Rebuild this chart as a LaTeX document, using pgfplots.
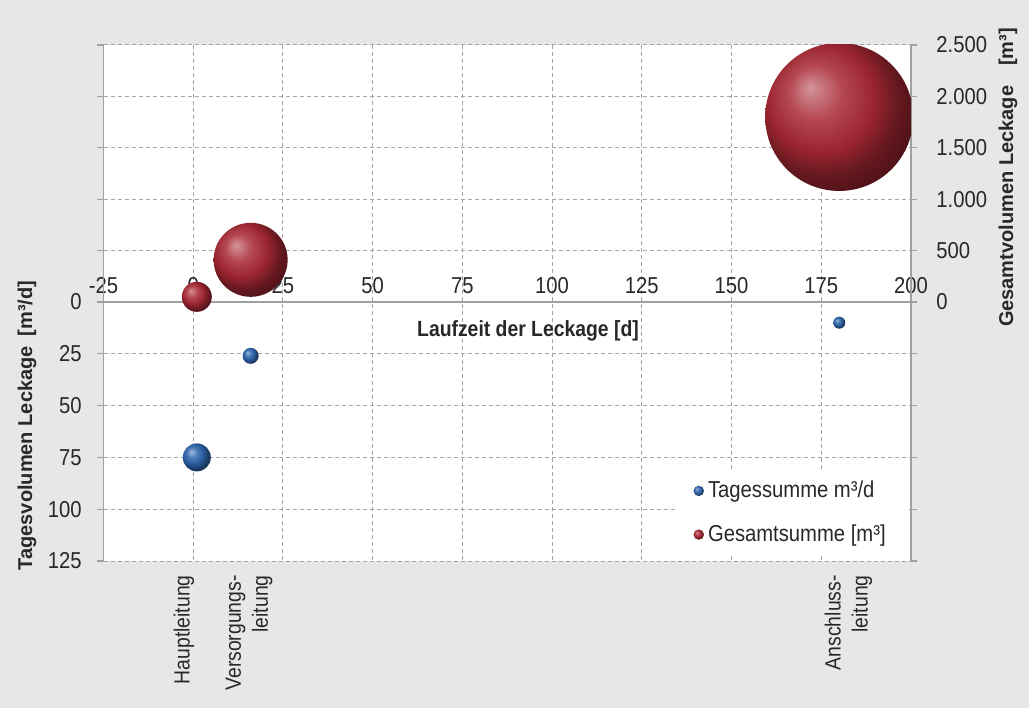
\documentclass[border=0pt]{standalone}
\usepackage{pgfplots}
\pgfplotsset{compat=1.18}
\usepackage{fontspec}
\setmainfont{Liberation Sans}[FakeStretch=0.88]
\newfontfamily\widefont{Liberation Sans}
\definecolor{bg}{RGB}{230,231,232}
\definecolor{gridc}{RGB}{165,165,165}
\definecolor{axc}{RGB}{160,160,160}
\definecolor{bubred}{RGB}{168,40,52}
\definecolor{bubblue}{RGB}{45,100,172}
\definecolor{txt}{RGB}{40,40,40}
\pgfdeclareradialshading{redball}{\pgfpoint{-10bp}{10bp}}{color(0bp)=(bubred!50!white); color(9bp)=(bubred!85!white); color(18bp)=(bubred!92!black); color(25bp)=(bubred!60!black); color(50bp)=(black)}
\pgfdeclareradialshading{blueball}{\pgfpoint{-10bp}{10bp}}{color(0bp)=(bubblue!45!white); color(9bp)=(bubblue!85!white); color(18bp)=(bubblue!92!black); color(25bp)=(bubblue!60!black); color(50bp)=(black)}
\pgfdeclareplotmark{redball}{\pgfpathcircle{\pgfpointorigin}{\pgfplotmarksize}\pgfshadepath{redball}{0}\pgfusepath{discard}}
\pgfdeclareplotmark{blueball}{\pgfpathcircle{\pgfpointorigin}{\pgfplotmarksize}\pgfshadepath{blueball}{0}\pgfusepath{discard}}
\begin{document}
\begin{tikzpicture}
\fill[bg] (0,0) rectangle (514.5pt,354pt);
\pgfplotsset{
 common/.style={
  scale only axis, width=403.75pt, height=258pt,
  at={(51.75pt,73.5pt)}, anchor=south west,
  xmin=-25, xmax=200,
  separate axis lines,
  x axis line style={draw=none},
  y axis line style={draw=axc, line width=0.8pt},
  tick align=outside, major tick length=3pt,
  every tick/.style={draw=axc, line width=0.6pt},
  tick label style={font=\fontsize{11.5}{13}\selectfont, text=txt},
  major grid style={draw=gridc, dash pattern=on 2pt off 1.5pt, line width=0.5pt},
  clip marker paths=true,
 }
}
\begin{axis}[common,
  y dir=reverse, ymin=-124, ymax=125,
  ytick={0,25,50,75,100,125}, yticklabels={0,25,50,75,100,125},
  ytick pos=both, yticklabel pos=left,
  yticklabel style={anchor=east, inner xsep=0pt, xshift=-7.75pt},
  xtick={-25,0,25,50,75,100,125,150,175,200},
  xticklabels={-25,0,25,50,75,100,125,150,175,200},
  x tick style={draw=none},
  xticklabel style={anchor=center, yshift=140.5pt},
  xmajorgrids, ymajorgrids,
  axis background/.style={fill=white},
]
\addplot[only marks, mark=blueball, mark size=7pt] coordinates {(1,75)};
\addplot[only marks, mark=blueball, mark size=4pt] coordinates {(16,26)};
\addplot[only marks, mark=blueball, mark size=3pt] coordinates {(180,10)};
\end{axis}
\begin{axis}[common,
  ymin=-2520, ymax=2500,
  ytick={0,500,1000,1500,2000,2500}, yticklabels={0,500,1.000,1.500,2.000,2.500},
  ytick pos=both, yticklabel pos=right,
  yticklabel style={anchor=west, inner xsep=0pt, xshift=9.5pt},
  xtick=\empty,
  ymajorgrids,
  legend style={at={(0.708,0.012)}, anchor=south west, draw=none, fill=white,
    font=\fontsize{11.5}{13}\selectfont, text=txt,
    inner xsep=9pt, inner ysep=3pt, row sep=8pt, cells={inner xsep=0.5pt}},
  legend cell align=left,
]
\draw[axc, line width=0.8pt] (axis cs:-25,0) -- (axis cs:200,0);
\addplot[only marks, mark=redball, mark size=7.5pt, forget plot] coordinates {(1,50)};
\addplot[only marks, mark=redball, mark size=18.5pt, forget plot] coordinates {(16,410)};
\addplot[only marks, mark=redball, mark size=37pt, forget plot] coordinates {(180,1800)};
\addlegendimage{legend image code/.code={\pgfpathcircle{\pgfpoint{0pt}{0pt}}{2.6pt}\pgfshadepath{blueball}{0}\pgfusepath{discard}}}
\addlegendentry{Tagessumme m³/d}
\addlegendimage{legend image code/.code={\pgfpathcircle{\pgfpoint{0pt}{0pt}}{2.6pt}\pgfshadepath{redball}{0}\pgfusepath{discard}}}
\addlegendentry{Gesamtsumme [m³]}
\end{axis}
\node[rotate=90, font={\widefont\bfseries\fontsize{10}{12}\selectfont}, text=txt] at (13.5pt,141.25pt) {Tagesvolumen Leckage\enspace[m³/d]};
\node[rotate=90, font={\widefont\bfseries\fontsize{10}{12}\selectfont}, text=txt] at (504pt,265.25pt) {Gesamtvolumen Leckage\quad[m³]};
\node[font={\bfseries\fontsize{11}{13}\selectfont}, text=txt] at (264pt,188.6pt) {Laufzeit der Leckage [d]};
\node[rotate=90, anchor=east, inner sep=0pt, align=right, font=\fontsize{11}{13.5}\selectfont, text=txt] at (92pt,66.5pt) {Hauptleitung};
\node[rotate=90, anchor=east, inner sep=0pt, align=right, font=\fontsize{11}{13.5}\selectfont, text=txt] at (124.5pt,66.5pt) {Versorgungs-\\leitung};
\node[rotate=90, anchor=east, inner sep=0pt, align=right, font=\fontsize{11}{13.5}\selectfont, text=txt] at (424.25pt,66.5pt) {Anschluss-\\leitung};
\pgfresetboundingbox
\path (0,0) rectangle (514.5pt,354pt);
\end{tikzpicture}
\end{document}
